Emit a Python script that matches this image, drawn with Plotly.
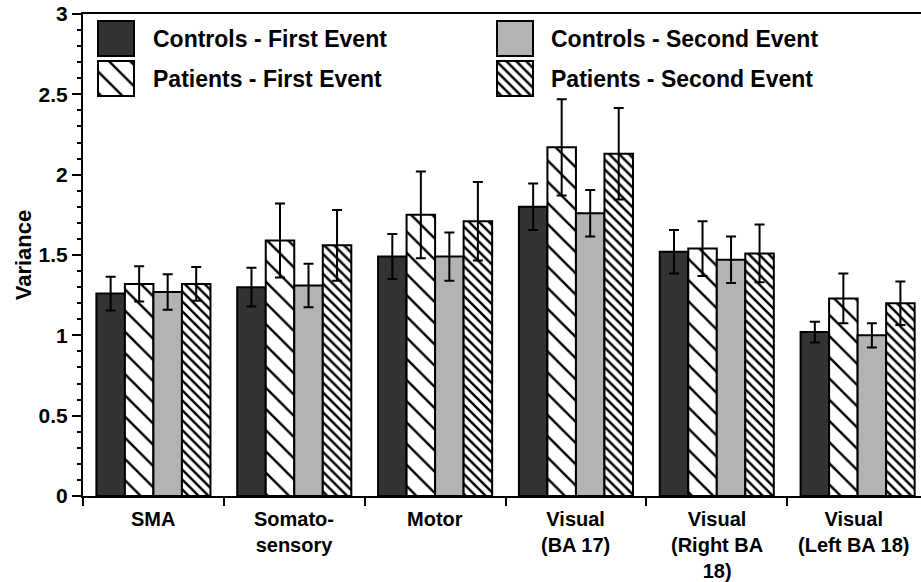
import plotly.graph_objects as go

# ---------------- data ----------------
category_lines = [["SMA"], ["Somato-", "sensory"], ["Motor"], ["Visual", "(BA 17)"],
                  ["Visual", "(Right BA", "18)"], ["Visual", "(Left BA 18)"]]
categories = ["<br>".join(c) for c in category_lines]

controls_first = [1.26, 1.30, 1.49, 1.80, 1.52, 1.02]
controls_first_err = [0.105, 0.12, 0.14, 0.145, 0.135, 0.065]

patients_first = [1.32, 1.59, 1.75, 2.17, 1.54, 1.23]
patients_first_err = [0.11, 0.23, 0.27, 0.30, 0.17, 0.155]

controls_second = [1.27, 1.31, 1.49, 1.76, 1.47, 1.00]
controls_second_err = [0.11, 0.135, 0.15, 0.145, 0.145, 0.075]

patients_second = [1.32, 1.56, 1.71, 2.13, 1.51, 1.20]
patients_second_err = [0.105, 0.22, 0.245, 0.285, 0.18, 0.135]

series_names = ["Controls - First Event", "Patients - First Event",
                "Controls - Second Event", "Patients - Second Event"]

y_ticks = [0, 0.5, 1, 1.5, 2, 2.5, 3]
y_tick_labels = ["0", "0.5", "1", "1.5", "2", "2.5", "3"]

# ---------------- styles ----------------
FONT = "Liberation Sans, Arial, sans-serif"
DARK = "#333333"
GRAY = "#b3b3b3"

styles = [
    dict(color=DARK, pattern=None),
    dict(color="white", pattern=dict(shape="\\", fgcolor="#000000", bgcolor="white",
                                     size=15, solidity=0.16, fgopacity=1)),
    dict(color=GRAY, pattern=None),
    dict(color="white", pattern=dict(shape="\\", fgcolor="#000000", bgcolor="white",
                                     size=7, solidity=0.35, fgopacity=1)),
]

values = [controls_first, patients_first, controls_second, patients_second]
errors = [controls_first_err, patients_first_err, controls_second_err, patients_second_err]

fig = go.Figure()
for name, v, e, st in zip(series_names, values, errors, styles):
    marker = dict(color=st["color"], line=dict(color="black", width=2))
    if st["pattern"]:
        marker["pattern"] = st["pattern"]
    fig.add_trace(go.Bar(
        x=categories, y=v, name=name, marker=marker, showlegend=False,
        error_y=dict(type="data", array=e, visible=True, color="black",
                     thickness=2, width=5),
    ))

# ---------------- legend (keys drawn on an overlay axis in pixel units) ----------------
L, T, B = 83, 14, 496
legend_key_x = [116, 116, 515, 515]
legend_key_top = [21, 61, 21, 61]
legend_text_x = [151, 151, 549, 549]
for i, (name, st) in enumerate(zip(series_names, styles)):
    marker = dict(color=st["color"], line=dict(color="black", width=2))
    if st["pattern"]:
        marker["pattern"] = st["pattern"]
    fig.add_trace(go.Bar(
        x=[legend_key_x[i]], y=[35], base=[legend_key_top[i]], width=[36], offset=-18,
        marker=marker, xaxis="x2", yaxis="y2", showlegend=False, hoverinfo="skip",
    ))
    fig.add_annotation(
        x=legend_text_x[i], y=legend_key_top[i] + 17.5, xref="x2", yref="y2",
        text=f"<b>{name}</b>", showarrow=False, xanchor="left", yanchor="middle",
        font=dict(family=FONT, size=23, color="black"),
    )

# ---------------- category labels ----------------
label_xshift = [0, 0, 0, 0, 0, -4]
for ci, (cat, lines) in enumerate(zip(categories, category_lines)):
    fig.add_annotation(
        x=cat, y=0, xref="x", yref="paper",
        text="<br>".join(f"<b>{t}</b>" for t in lines), showarrow=False,
        xanchor="center", yanchor="top", yshift=-11, xshift=label_xshift[ci],
        align="center", borderpad=0,
        font=dict(family=FONT, size=20, color="black"),
    )

fig.update_layout(
    width=921, height=582,
    margin=dict(l=L, r=0, t=T, b=582 - B),
    paper_bgcolor="white", plot_bgcolor="white",
    barmode="group", bargap=0.19, bargroupgap=0,
    font=dict(family=FONT, size=21, color="black"),
    xaxis=dict(
        type="category", range=[-0.5, 5.45],
        showline=True, linecolor="black", linewidth=2, mirror=True,
        ticks="outside", tickson="boundaries", ticklen=8, tickwidth=1.5, tickcolor="black",
        showticklabels=False,
        showgrid=False, zeroline=False,
    ),
    yaxis=dict(
        range=[0, 3], tickvals=y_ticks, ticktext=[f"<b>{t}</b>" for t in y_tick_labels],
        showline=True, linecolor="black", linewidth=2,
        ticks="outside", ticklen=9, tickwidth=1.5, tickcolor="black",
        minor=dict(dtick=0.1, ticks="outside", ticklen=4, tickwidth=1.5, tickcolor="black"),
        tickfont=dict(family=FONT, size=21, color="black"),
        showgrid=False, zeroline=False,
        title=dict(text="<b>Variance</b>", font=dict(family=FONT, size=22), standoff=1),
    ),
    xaxis2=dict(range=[L, 921], domain=[0, 1], anchor="y2", overlaying="x", visible=False),
    yaxis2=dict(range=[B, T], domain=[0, 1], anchor="x2", overlaying="y", visible=False),
)

fig.write_html("out.html")
